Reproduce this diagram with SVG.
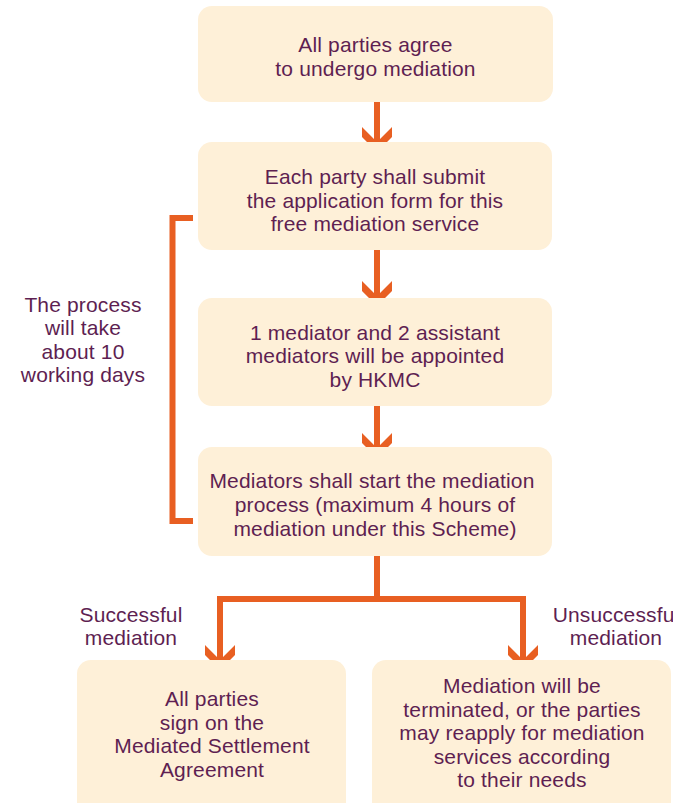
<svg xmlns="http://www.w3.org/2000/svg" width="673" height="803" viewBox="0 0 673 803">
<style>
.box{fill:#FEF0D8;}
.t{font-family:"Liberation Sans",Arial,sans-serif;font-size:21px;letter-spacing:0.15px;fill:#5E1F52;text-anchor:middle;}
.ln{fill:none;stroke:#E85F22;stroke-width:6;}
.ah{fill:#E85F22;}
</style>
<rect width="673" height="803" fill="#FFFFFF"/>
<g id="connectors">
<path class="ln" d="M193,218 H172.5 V521 H193"/>
<path class="ln" d="M377,556 V599 M220,599 H523 M220,596 V650 M523,596 V650"/>
<polygon class="ah" points="374,102 380,102 380,139 392,127 392,137 377,152 362,137 362,127 374,139"/>
<polygon class="ah" points="374,250 380,250 380,293 392,281 392,291 377,306 362,291 362,281 374,293"/>
<polygon class="ah" points="374,406 380,406 380,445 392,433 392,443 377,458 362,443 362,433 374,445"/>
<polygon class="ah" points="217,640 223,640 223,657 235,645 235,655 220,670 205,655 205,645 217,657"/>
<polygon class="ah" points="520,640 526,640 526,657 538,645 538,655 523,670 508,655 508,645 520,657"/>
</g>
<g id="n1">
<rect class="box" x="198" y="6" width="355" height="96" rx="14"/>
<text class="t" x="375.5" y="52">All parties agree</text>
<text class="t" x="375.5" y="76">to undergo mediation</text>
</g>
<g id="n2">
<rect class="box" x="198" y="142" width="354" height="108" rx="14"/>
<text class="t" x="375" y="184">Each party shall submit</text>
<text class="t" x="375" y="208">the application form for this</text>
<text class="t" x="375" y="231">free mediation service</text>
</g>
<g id="n3">
<rect class="box" x="198" y="298" width="354" height="108" rx="14"/>
<text class="t" x="375" y="340">1 mediator and 2 assistant</text>
<text class="t" x="375" y="363">mediators will be appointed</text>
<text class="t" x="375" y="387">by HKMC</text>
</g>
<g id="n4">
<rect class="box" x="198" y="447" width="354" height="109" rx="14"/>
<text class="t" x="372" y="488">Mediators shall start the mediation</text>
<text class="t" x="375" y="512">process (maximum 4 hours of</text>
<text class="t" x="375" y="536">mediation under this Scheme)</text>
</g>
<g id="note">
<text class="t" x="83" y="312">The process</text>
<text class="t" x="83" y="335">will take</text>
<text class="t" x="83" y="359">about 10</text>
<text class="t" x="83" y="382">working days</text>
</g>
<g id="label-success">
<text class="t" x="131" y="622">Successful</text>
<text class="t" x="131" y="645">mediation</text>
</g>
<g id="label-fail">
<text class="t" x="616" y="622">Unsuccessful</text>
<text class="t" x="616" y="645">mediation</text>
</g>
<g id="n5">
<rect class="box" x="77" y="660" width="269" height="160" rx="14"/>
<text class="t" x="212" y="706">All parties</text>
<text class="t" x="212" y="729.5">sign on the</text>
<text class="t" x="212" y="753">Mediated Settlement</text>
<text class="t" x="212" y="776.5">Agreement</text>
</g>
<g id="n6">
<rect class="box" x="372" y="660" width="299" height="160" rx="14"/>
<text class="t" x="522" y="693">Mediation will be</text>
<text class="t" x="522" y="716.5">terminated, or the parties</text>
<text class="t" x="522" y="740">may reapply for mediation</text>
<text class="t" x="522" y="763.5">services according</text>
<text class="t" x="522" y="787">to their needs</text>
</g>
</svg>
